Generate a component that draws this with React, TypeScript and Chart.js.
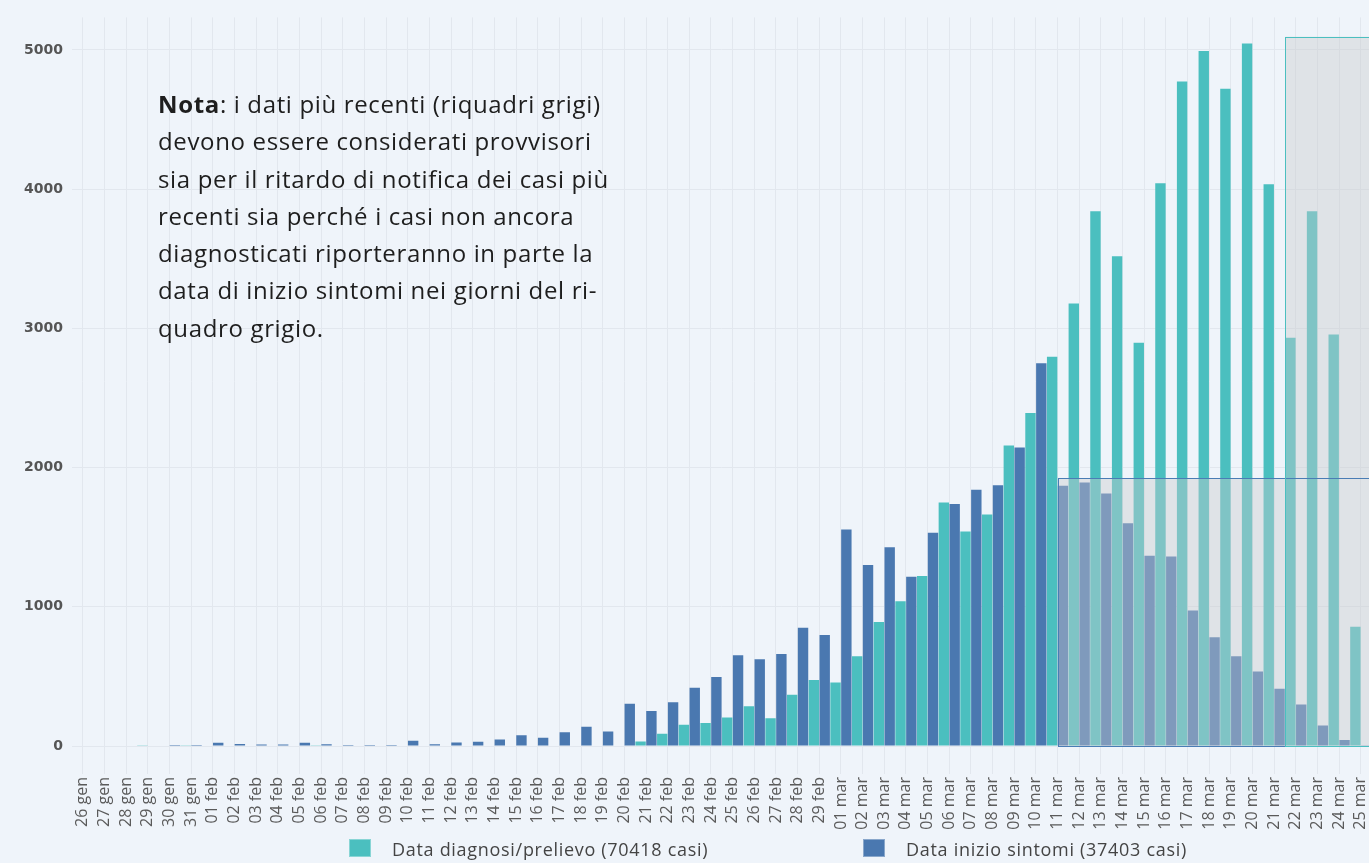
import React, { useEffect, useRef } from "react";
import { Chart, registerables } from "chart.js";

Chart.register(...registerables);

const giorni: string[] = [
  "26 gen", "27 gen", "28 gen", "29 gen", "30 gen", "31 gen",
  "01 feb", "02 feb", "03 feb", "04 feb", "05 feb", "06 feb", "07 feb", "08 feb", "09 feb", "10 feb",
  "11 feb", "12 feb", "13 feb", "14 feb", "15 feb", "16 feb", "17 feb", "18 feb", "19 feb", "20 feb",
  "21 feb", "22 feb", "23 feb", "24 feb", "25 feb", "26 feb", "27 feb", "28 feb", "29 feb",
  "01 mar", "02 mar", "03 mar", "04 mar", "05 mar", "06 mar", "07 mar", "08 mar", "09 mar", "10 mar",
  "11 mar", "12 mar", "13 mar", "14 mar", "15 mar", "16 mar", "17 mar", "18 mar", "19 mar", "20 mar",
  "21 mar", "22 mar", "23 mar", "24 mar", "25 mar",
];

const diagnosiPrelievo: number[] = [
  0, 0, 0, 2, 0, 1,
  0, 0, 0, 0, 0, 1, 0, 0, 0, 0,
  0, 0, 0, 0, 0, 0, 0, 0, 0, 3,
  33, 88, 153, 165, 205, 286, 200, 368, 475,
  456, 644, 890, 1040, 1222, 1749, 1540, 1663, 2158, 2392,
  2796, 3178, 3841, 3519, 2896, 4043, 4773, 4992, 4722, 5047,
  4035, 2932, 3841, 2956, 856,
];

const inizioSintomi: number[] = [
  0, 0, 4, 4, 7, 7,
  24, 14, 10, 10, 24, 12, 7, 7, 7, 38,
  13, 25, 30, 46, 78, 60, 98, 138, 105, 303,
  251, 315, 418, 496, 652, 623, 661, 850, 797,
  1556, 1301, 1427, 1215, 1532, 1738, 1840, 1874, 2145, 2750,
  1869, 1892, 1813, 1601, 1366, 1361, 974, 781, 645, 536,
  411, 298, 148, 43, 5,
];

const yTicks: number[] = [0, 1000, 2000, 3000, 4000, 5000];

const legendLabels: string[] = [
  "Data diagnosi/prelievo (70418 casi)",
  "Data inizio sintomi (37403 casi)",
];

// provisional (grey) boxes
const provvisorioSintomiDa = "11 mar";
const provvisorioSintomiAltezza = 1925;
const provvisorioDiagnosiDa = "22 mar";
const provvisorioDiagnosiAltezza = 5095;

const noteLines: string[] = [
  "devono essere considerati provvisori",
  "sia per il ritardo di notifica dei casi più",
  "recenti sia perché i casi non ancora",
  "diagnosticati riporteranno in parte la",
  "data di inizio sintomi nei giorni del ri-",
  "quadro grigio.",
];

const TEAL = "#4bbfbf";
const BLUE = "#4a78b0";
const BG = "#eff4fa";
const GRID = "#e2e7ee";

const provisionalPlugin = {
  id: "provisional",
  afterDatasetsDraw(chart: any) {
    const { ctx, chartArea, scales } = chart;
    const y = scales.y;
    const m0 = chart.getDatasetMeta(0);
    const m1 = chart.getDatasetMeta(1);
    const i1 = giorni.indexOf(provvisorioSintomiDa);
    const i2 = giorni.indexOf(provvisorioDiagnosiDa);
    const b1 = m1.data[i1];
    const b2 = m0.data[i2];
    const left1 = b1.x - b1.width / 2;
    const left2 = b2.x - b2.width / 2;
    const y0 = y.getPixelForValue(0);
    const top1 = y.getPixelForValue(provvisorioSintomiAltezza);
    const top2 = y.getPixelForValue(provvisorioDiagnosiAltezza);
    const right = chartArea.right + 20;
    ctx.save();
    ctx.fillStyle = "rgba(200,202,206,0.42)";
    ctx.fillRect(left1, top1, left2 - left1, y0 - top1);
    ctx.fillRect(left2, top2, right - left2, y0 - top2);
    ctx.lineWidth = 1;
    ctx.strokeStyle = "#4a7db5";
    ctx.strokeRect(Math.round(left1) + 0.5, Math.round(top1) + 0.5, right - left1, Math.round(y0 - top1));
    ctx.strokeStyle = "#4bbfc0";
    ctx.strokeRect(Math.round(left2) + 0.5, Math.round(top2) + 0.5, right - left2, Math.round(y0 - top2));
    ctx.restore();
  },
};

export default function App() {
  const ref = useRef<HTMLCanvasElement | null>(null);

  useEffect(() => {
    document.documentElement.style.overflow = "hidden";
    document.body.style.background = BG;
    const canvas = ref.current;
    if (!canvas) return;
    const chart = new Chart(canvas, {
      type: "bar",
      data: {
        labels: giorni,
        datasets: [
          {
            label: legendLabels[0],
            data: diagnosiPrelievo,
            backgroundColor: TEAL,
            borderWidth: 0,
            categoryPercentage: 1,
            barPercentage: 0.96,
          },
          {
            label: legendLabels[1],
            data: inizioSintomi,
            backgroundColor: BLUE,
            borderWidth: 0,
            categoryPercentage: 1,
            barPercentage: 0.96,
          },
        ],
      },
      options: {
        responsive: false,
        animation: false,
        devicePixelRatio: 1,
        layout: { padding: 0 },
        plugins: {
          legend: { display: false },
          tooltip: { enabled: false },
        },
        scales: {
          x: {
            offset: true,
            grid: {
              offset: false,
              color: GRID,
              lineWidth: 1,
              drawTicks: true,
              tickLength: 28,
              tickColor: GRID,
            },
            border: { display: false },
            ticks: {
              autoSkip: false,
              maxRotation: 90,
              minRotation: 90,
              padding: 3,
              color: "#5a5a5a",
              font: { family: "'Open Sans'", size: 16 },
            },
            afterFit: (s: any) => {
              s.height = 117;
            },
          },
          y: {
            min: 0,
            max: 5234,
            grid: { color: GRID, drawTicks: false },
            border: { display: false },
            ticks: {
              padding: 9,
              color: "#555",
              font: { family: "'DejaVu Sans'", size: 14, weight: "bold" },
              callback: (v: any) => String(v),
            },
            afterBuildTicks: (s: any) => {
              s.ticks = yTicks.map((v) => ({ value: v }));
            },
            afterFit: (s: any) => {
              s.width = 72;
            },
          },
        },
      },
      plugins: [provisionalPlugin],
    });
    return () => chart.destroy();
  }, []);

  return (
    <div
      style={{
        position: "fixed",
        left: 0,
        top: 0,
        width: 1369,
        height: 863,
        overflow: "hidden",
        background: BG,
      }}
    >
      <canvas ref={ref} width={1383} height={863} style={{ position: "absolute", left: 0, top: 0 }} />
      <div
        style={{
          position: "absolute",
          left: 158,
          top: 85,
          fontFamily: "'Open Sans', sans-serif",
          fontSize: 24,
          letterSpacing: "0.65px",
          lineHeight: "37.3px",
          color: "#1e1e1e",
          whiteSpace: "pre",
        }}
      >
        <div>
          <b>Nota</b>: i dati più recenti (riquadri grigi)
        </div>
        {noteLines.map((l, i) => (
          <div key={i}>{l}</div>
        ))}
      </div>
      {[
        { left: 349, text: 392, color: TEAL, label: legendLabels[0] },
        { left: 863, text: 906, color: BLUE, label: legendLabels[1] },
      ].map((it, i) => (
        <React.Fragment key={i}>
          <div
            style={{
              position: "absolute",
              left: it.left,
              top: 839,
              width: 22,
              height: 18,
              background: it.color,
              boxSizing: "border-box",
              border: "1px solid rgba(255,255,255,0.35)",
            }}
          />
          <div
            style={{
              position: "absolute",
              left: it.text,
              top: 838,
              lineHeight: "22px",
              fontFamily: "'Open Sans', sans-serif",
              fontSize: 18,
              letterSpacing: "0.7px",
              color: "#444",
              whiteSpace: "nowrap",
            }}
          >
            {it.label}
          </div>
        </React.Fragment>
      ))}
    </div>
  );
}
